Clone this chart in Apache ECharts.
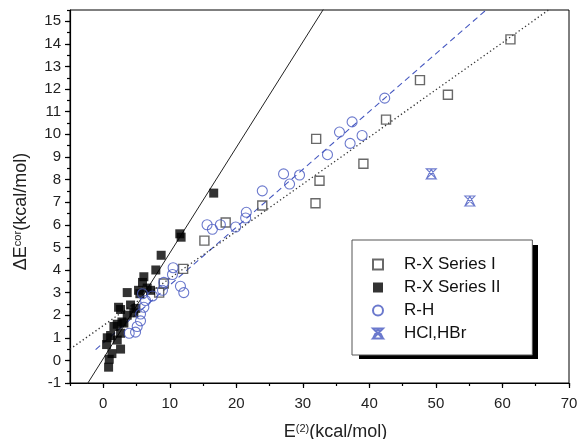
<!DOCTYPE html>
<html>
<head>
<meta charset="utf-8">
<script src="https://cdn.jsdelivr.net/npm/echarts@6/dist/echarts.min.js"></script>
<style>html,body{margin:0;padding:0;background:#fff}#c{width:579px;height:439px}</style>
</head>
<body>
<div id="c"></div>
<script>
// ---- data ----
const seriesNames = ['R-X Series I', 'R-X Series II', 'R-H', 'HCl,HBr'];
const seriesI = [[8.4,3.0],[9.1,3.4],[12.0,4.05],[15.2,5.3],[18.4,6.1],[23.9,6.85],[31.9,6.95],[32.5,7.95],[32.0,9.8],[39.1,8.7],[42.5,10.65],[47.6,12.4],[51.8,11.75],[61.2,14.2]];
const seriesII = [[0.8,-0.3],[0.9,0.05],[1.3,0.3],[0.5,0.7],[0.6,1.0],[1.1,1.1],[2.1,0.9],[2.6,0.5],[2.6,1.2],[1.6,1.5],[2.1,1.6],[3.1,1.65],[2.8,1.7],[3.6,2.0],[4.6,2.1],[2.3,2.35],[2.6,2.25],[4.1,2.45],[4.9,2.3],[3.6,3.0],[5.3,3.1],[7.1,3.1],[6.6,3.2],[5.5,2.95],[5.9,3.45],[6.1,3.7],[7.9,4.0],[8.7,4.65],[11.5,5.6],[11.7,5.45],[16.6,7.4]];
const seriesRH = [[3.9,1.2],[4.85,1.25],[5.1,1.5],[5.6,1.75],[5.6,2.05],[6.1,2.35],[6.35,2.65],[5.9,2.95],[7.4,2.85],[8.9,3.1],[9.1,3.45],[10.4,3.8],[10.5,4.1],[11.6,3.28],[12.1,3.0],[15.6,6.0],[16.4,5.8],[17.6,6.0],[19.9,5.9],[21.4,6.3],[21.5,6.55],[23.9,7.5],[27.1,8.25],[28.0,7.8],[29.5,8.2],[33.7,9.1],[37.1,9.6],[35.5,10.1],[37.4,10.55],[38.9,9.95],[42.3,11.6]];
const seriesHX = [[49.3,8.25],[55.1,7.05]];
// fit lines: y = slope*x + intercept, drawn from xStart
const fitSlope = [0.467, 0.256, 0.2086];
const fitIntercept = [0.08, 0.77, 1.54];
const fitXStart = [-5, -1.15, -5];
const fitXEnd = [70, 70, 70];
const xTicks = [0,10,20,30,40,50,60,70];
const yTicks = [-1,0,1,2,3,4,5,6,7,8,9,10,11,12,13,14,15];

const FONT = '"Liberation Sans", Arial, sans-serif';
const BLUE = '#4658c0';
function fitData(i){ return [[fitXStart[i], fitSlope[i]*fitXStart[i]+fitIntercept[i]], [fitXEnd[i], fitSlope[i]*fitXEnd[i]+fitIntercept[i]]]; }

const chart = echarts.init(document.getElementById('c'), null, {renderer:'canvas'});
const grid = {left:70, right:10, top:10, bottom:56, show:true, borderColor:'#000', borderWidth:1, backgroundColor:'transparent', containLabel:false, outerBoundsMode:'none'};
const lineAxis = {show:true, onZero:false, lineStyle:{color:'#000', width:1.2}};
chart.setOption({
  animation:false,
  grid: grid,
  graphic: [{
    type:'rect', left:359, top:245, z:0, silent:true,
    shape:{width:179, height:114}, style:{fill:'#000'}
  }],
  xAxis: [{
    type:'value', min:-5, max:70, interval:5, position:'bottom',
    axisLine: lineAxis,
    axisTick:{show:true, inside:false, length:5, customValues:xTicks, lineStyle:{color:'#000', width:1.2}},
    axisLabel:{show:true, customValues:xTicks, margin:13, fontSize:15, color:'#222', fontFamily:FONT},
    splitLine:{show:false},
    name:'{n|E}{s|(2)}{n|(kcal/mol)}', nameLocation:'middle', nameGap:40,
    nameTextStyle:{padding:[0,0,0,32], rich:{n:{fontSize:18, fontFamily:FONT, color:'#222'}, s:{fontSize:11, fontFamily:FONT, color:'#222', verticalAlign:'top', padding:[0,0,6,0]}}}
  },{
    type:'value', min:-5, max:70, interval:5, position:'bottom', offset:0,
    axisLine:{show:false, onZero:false},
    axisTick:{show:true, length:3, lineStyle:{color:'#000', width:1.2}},
    axisLabel:{show:false}, splitLine:{show:false}
  }],
  yAxis: [{
    type:'value', min:-1, max:15.5, interval:1, position:'left',
    axisLine: lineAxis,
    axisTick:{show:true, length:5, customValues:yTicks, lineStyle:{color:'#000', width:1.2}},
    axisLabel:{show:true, customValues:yTicks, margin:9, fontSize:15, color:'#222', fontFamily:FONT},
    splitLine:{show:false},
    name:'{n|ΔE}{s|cor}{n|(kcal/mol)}', nameLocation:'middle', nameGap:40, nameRotate:90,
    nameTextStyle:{padding:[0,30,0,0], rich:{n:{fontSize:18, fontFamily:FONT, color:'#222'}, s:{fontSize:11, fontFamily:FONT, color:'#222', verticalAlign:'top', padding:[0,0,6,0]}}}
  },{
    type:'value', min:-1, max:15.5, interval:0.5, position:'left', offset:0,
    axisLine:{show:false, onZero:false},
    axisTick:{show:true, length:3, lineStyle:{color:'#000', width:1.2}},
    axisLabel:{show:false}, splitLine:{show:false}
  }],
  legend: {
    data: seriesNames, orient:'vertical', left:352, top:240, z:5,
    padding:[16,32,13,20], itemGap:6, itemWidth:10, itemHeight:10,
    backgroundColor:'#fff', borderColor:'#555', borderWidth:1,
    formatter: function(n){ return '{t|' + n + '}'; },
    textStyle:{rich:{t:{fontSize:17, fontFamily:FONT, color:'#111', lineHeight:20, padding:[0,0,0,16]}}}
  },
  series: [
    {type:'line', data:fitData(0), symbol:'none', silent:true, clip:true, lineStyle:{color:'#222', width:1, type:'solid'}, z:1},
    {type:'line', data:fitData(1), symbol:'none', silent:true, clip:true, lineStyle:{color:BLUE, width:1.1, type:[6,4]}, z:1},
    {type:'line', data:fitData(2), symbol:'none', silent:true, clip:true, lineStyle:{color:'#333', width:1.3, type:[1.3,2.6]}, z:1},
    {name:seriesNames[0], type:'scatter', data:seriesI, symbol:'rect', symbolSize:9,
     itemStyle:{color:'rgba(255,255,255,0)', borderColor:'#444', borderWidth:1.4}, z:2},
    {name:seriesNames[1], type:'scatter', data:seriesII, symbol:'rect', symbolSize:9,
     itemStyle:{color:'#000', borderColor:'#000', borderWidth:0}, z:2},
    {name:seriesNames[2], type:'scatter', data:seriesRH, symbol:'circle', symbolSize:10,
     itemStyle:{color:'rgba(255,255,255,0)', borderColor:BLUE, borderWidth:1.1}, z:3},
    {name:seriesNames[3], type:'scatter', data:seriesHX, symbol:'path://M0,0L10,0L0,10L10,10ZM5,0L0,10M5,0L10,10', symbolSize:10,
     itemStyle:{color:'rgba(255,255,255,0)', borderColor:BLUE, borderWidth:1.1}, z:3}
  ]
});
</script>
</body>
</html>
